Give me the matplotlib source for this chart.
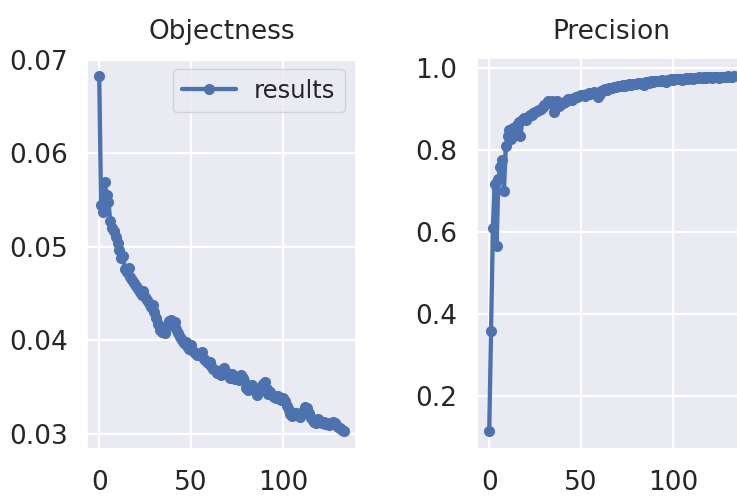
import matplotlib
matplotlib.use("Agg")
import matplotlib.pyplot as plt
import seaborn as sns

epochs = list(range(134))

objectness = [
    0.0683, 0.0545, 0.0537, 0.0569, 0.0556, 0.0548, 0.0528, 0.0520, 0.0517, 0.0511,
    0.0504, 0.0497, 0.0488, 0.0490, 0.0476, 0.0473, 0.0478, 0.0468, 0.0465, 0.0461,
    0.0458, 0.0455, 0.0452, 0.0449, 0.0453, 0.0446, 0.0443, 0.0440, 0.0436, 0.0438,
    0.0430, 0.0424, 0.0418, 0.0411, 0.0409, 0.0412, 0.0408, 0.0415, 0.0421, 0.0422,
    0.0418, 0.0420, 0.0412, 0.0408, 0.0404, 0.0400, 0.0397, 0.0398, 0.0394, 0.0391,
    0.0395, 0.0389, 0.0387, 0.0385, 0.0386, 0.0384, 0.0388, 0.0380, 0.0378, 0.0376,
    0.0377, 0.0373, 0.0370, 0.0368, 0.0365, 0.0367, 0.0363, 0.0368, 0.0371, 0.0366,
    0.0363, 0.0360, 0.0364, 0.0362, 0.0359, 0.0361, 0.0358, 0.0363, 0.0360, 0.0357,
    0.0349, 0.0347, 0.0350, 0.0352, 0.0348, 0.0345, 0.0342, 0.0347, 0.0350, 0.0353,
    0.0356, 0.0348, 0.0343, 0.0345, 0.0342, 0.0340, 0.0339, 0.0341, 0.0338, 0.0336,
    0.0339, 0.0335, 0.0330, 0.0326, 0.0321, 0.0319, 0.0323, 0.0322, 0.0320, 0.0318,
    0.0322, 0.0324, 0.0329, 0.0328, 0.0322, 0.0317, 0.0315, 0.0313, 0.0312, 0.0316,
    0.0314, 0.0312, 0.0313, 0.0311, 0.0312, 0.0310, 0.0311, 0.0313, 0.0312, 0.0310,
    0.0308, 0.0306, 0.0304, 0.0303,
]

precision = [
    0.113, 0.358, 0.610, 0.718, 0.565, 0.730, 0.760, 0.775, 0.700, 0.810,
    0.835, 0.850, 0.828, 0.855, 0.838, 0.862, 0.870, 0.835, 0.875, 0.878,
    0.873, 0.882, 0.885, 0.887, 0.890, 0.893, 0.896, 0.899, 0.901, 0.905,
    0.910, 0.913, 0.920, 0.917, 0.921, 0.893, 0.902, 0.920, 0.907, 0.912,
    0.915, 0.918, 0.921, 0.924, 0.926, 0.922, 0.928, 0.931, 0.929, 0.932,
    0.934, 0.936, 0.933, 0.938, 0.940, 0.937, 0.941, 0.943, 0.939, 0.931,
    0.937, 0.945, 0.947, 0.949, 0.947, 0.951, 0.953, 0.952, 0.955, 0.954,
    0.957, 0.956, 0.958, 0.959, 0.957, 0.960, 0.961, 0.959, 0.962, 0.963,
    0.961, 0.964, 0.965, 0.963, 0.959, 0.966, 0.967, 0.965, 0.968, 0.967,
    0.969, 0.968, 0.970, 0.969, 0.971, 0.970, 0.967, 0.972, 0.971, 0.973,
    0.972, 0.974, 0.973, 0.975, 0.974, 0.972, 0.975, 0.976, 0.974, 0.976,
    0.977, 0.975, 0.976, 0.977, 0.978, 0.976, 0.977, 0.978, 0.977, 0.979,
    0.978, 0.977, 0.978, 0.979, 0.978, 0.977, 0.979, 0.978, 0.980, 0.979,
    0.981, 0.979, 0.980, 0.982,
]

titles = ["Objectness", "Precision"]
series_label = "results"

sns.set_theme(style="darkgrid")
plt.rcParams['font.family'] = ['DejaVu Sans']

color = "#4C72B0"
fs = 19

fig = plt.figure(figsize=(7.37, 4.98), dpi=100)
ax1 = fig.add_axes([87 / 737, 1 - 449 / 498, 269 / 737, 391 / 498])
ax2 = fig.add_axes([477 / 737, 1 - 449 / 498, 269 / 737, 391 / 498])

for ax, vals, title in [(ax1, objectness, titles[0]), (ax2, precision, titles[1])]:
    ax.plot(epochs, vals, marker="o", color=color, lw=3.1, ms=8, mew=0,
            label=series_label)
    ax.set_title(title, fontsize=fs, color="#262626", pad=14)
    ax.tick_params(axis="y", labelsize=fs, colors="#262626", pad=8)
    ax.tick_params(axis="x", labelsize=fs, colors="#262626", pad=9)
    ax.grid(True, color="white", lw=1.6)

ax1.set_yticks([0.03, 0.04, 0.05, 0.06, 0.07])
ax1.legend(loc="upper right", fontsize=17.5, handlelength=2.2,
           handletextpad=0.75, borderaxespad=0.45)

fig.savefig("out.png", dpi=100)
